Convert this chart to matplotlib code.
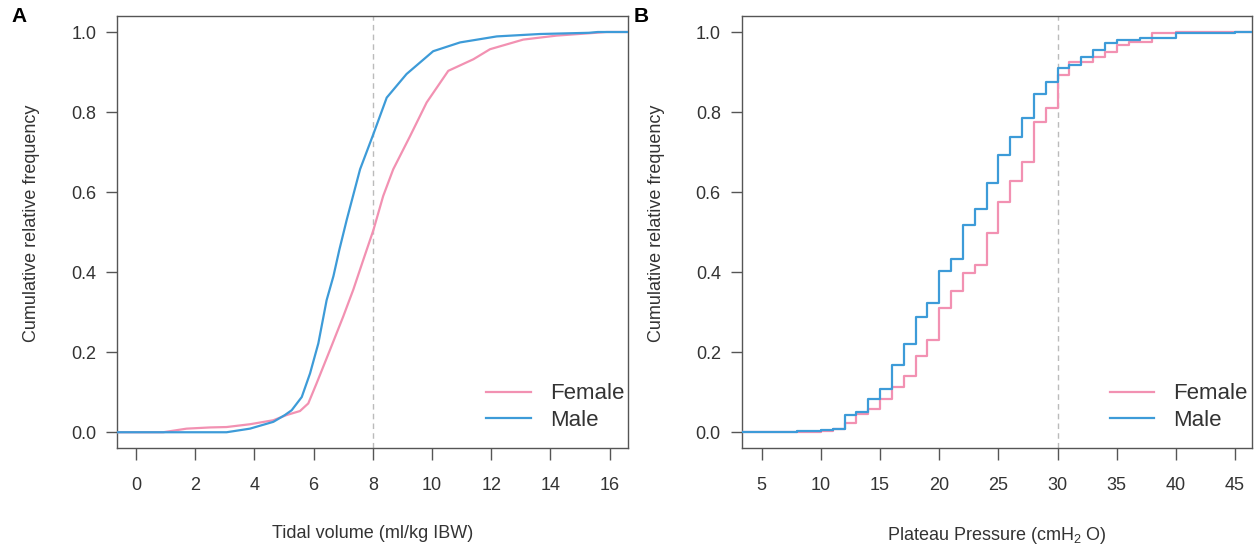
import matplotlib
matplotlib.use("Agg")
import matplotlib.pyplot as plt
import numpy as np

plt.rcParams["font.family"] = ["Liberation Sans", "DejaVu Sans"]
plt.rcParams["mathtext.fontset"] = "custom"
plt.rcParams["mathtext.rm"] = "Liberation Sans"
plt.rcParams["mathtext.it"] = "Liberation Sans:italic"

PINK = "#F291B2"
BLUE = "#3D9BD8"
AXIS = "#555555"
TEXT = "#333333"

# Panel A: tidal volume ECDF (ml/kg IBW)
tv_female_x = [0.92, 1.71, 2.5, 3.06, 3.85, 4.64, 5.09, 5.54, 5.82, 6.1, 6.55, 7.0,
               7.34, 7.68, 8.02, 8.35, 8.69, 9.26, 9.82, 10.55, 11.4, 11.96, 13.08,
               14.21, 15.34, 15.9]
tv_female_f = [0.0, 0.009, 0.012, 0.013, 0.02, 0.03, 0.043, 0.053, 0.072, 0.122, 0.205,
               0.289, 0.356, 0.431, 0.505, 0.59, 0.657, 0.74, 0.824, 0.903, 0.932, 0.957,
               0.981, 0.991, 0.997, 1.0]
tv_male_x = [3.06, 3.85, 4.64, 5.03, 5.26, 5.6, 5.88, 6.16, 6.44, 6.67, 6.87, 7.12, 7.57,
             8.02, 8.47, 9.14, 10.04, 10.95, 12.19, 13.65, 15.3, 15.6]
tv_male_f = [0.0, 0.009, 0.026, 0.043, 0.055, 0.088, 0.147, 0.222, 0.33, 0.39, 0.456,
             0.531, 0.657, 0.745, 0.836, 0.895, 0.952, 0.974, 0.989, 0.995, 0.998, 1.0]

# Panel B: plateau pressure ECDF (cmH2O), steps at integer values
pp_female_x = [8, 10, 11, 12, 13, 14, 15, 16, 17, 18, 19, 20, 21, 22, 23, 24, 25, 26,
               27, 28, 29, 30, 31, 32, 33, 34, 35, 36, 38, 40]
pp_female_f = [0.001, 0.004, 0.008, 0.023, 0.045, 0.059, 0.082, 0.114, 0.141, 0.19,
               0.231, 0.31, 0.352, 0.398, 0.419, 0.498, 0.575, 0.627, 0.676, 0.775,
               0.811, 0.892, 0.924, 0.926, 0.937, 0.949, 0.967, 0.976, 0.997, 1.0]
pp_male_x = [8, 10, 11, 12, 13, 14, 15, 16, 17, 18, 19, 20, 21, 22, 23, 24, 25, 26, 27,
             28, 29, 30, 31, 32, 33, 34, 35, 36, 37, 40, 45]
pp_male_f = [0.003, 0.006, 0.008, 0.043, 0.051, 0.084, 0.108, 0.168, 0.221, 0.289,
             0.324, 0.402, 0.433, 0.519, 0.558, 0.623, 0.692, 0.738, 0.786, 0.845,
             0.874, 0.909, 0.918, 0.937, 0.955, 0.972, 0.979, 0.981, 0.984, 0.997, 1.0]

yticks = [0.0, 0.2, 0.4, 0.6, 0.8, 1.0]
tv_ticks = list(range(0, 17, 2))
pp_ticks = list(range(5, 46, 5))


def extend(x, f, xlim):
    # ecdf lines run from the left edge to the right edge of the box
    return [xlim[0]] + list(x) + [xlim[1]], [0.0] + list(f) + [1.0]


def style_axes(ax, xlim, xticks, xlabel, cutoff):
    ax.set_xlim(*xlim)
    ax.set_ylim(-0.04, 1.04)
    ax.set_xticks(xticks)
    ax.set_yticks(yticks)
    ax.set_yticklabels([f"{v:.1f}" for v in yticks])
    ax.axvline(cutoff, color="#BBBBBB", lw=1.0, ls=(0, (4, 3)), zorder=1)
    for s in ax.spines.values():
        s.set_color(AXIS)
        s.set_linewidth(1.0)
    ax.tick_params(axis="x", length=8.5, width=1.0, color=AXIS, labelcolor=TEXT,
                   labelsize=13, pad=12)
    ax.tick_params(axis="y", length=8, width=1.0, color=AXIS, labelcolor=TEXT,
                   labelsize=13, pad=7)
    ax.set_xlabel(xlabel, fontsize=13, color=TEXT)
    ax.xaxis.set_label_coords(0.5, -0.177)
    ax.set_ylabel("Cumulative relative frequency", fontsize=13, color=TEXT)
    ax.yaxis.set_label_coords(-0.151, 0.52)
    ax.legend(loc="lower right", bbox_to_anchor=(0.992, 0.04), frameon=False,
              fontsize=16, handlelength=2.0, handletextpad=0.85, labelspacing=0.25,
              borderpad=0, borderaxespad=0, labelcolor=TEXT)


fig = plt.figure(figsize=(12.55, 5.44), dpi=100)
ax1 = fig.add_axes([0.0935, 0.176, 0.4071, 0.7946])
ax2 = fig.add_axes([0.591, 0.176, 0.4064, 0.7946])

xlim_a = (-0.63, 16.63)
x, f = extend(tv_female_x, tv_female_f, xlim_a)
ax1.plot(x, f, color=PINK, lw=1.6, label="Female", zorder=3)
x, f = extend(tv_male_x, tv_male_f, xlim_a)
ax1.plot(x, f, color=BLUE, lw=1.6, label="Male", zorder=4)
style_axes(ax1, xlim_a, tv_ticks, "Tidal volume (ml/kg IBW)", 8)

xlim_b = (3.31, 46.41)
x, f = extend(pp_female_x, pp_female_f, xlim_b)
ax2.step(x, f, where="post", color=PINK, lw=1.6, label="Female", zorder=3)
x, f = extend(pp_male_x, pp_male_f, xlim_b)
ax2.step(x, f, where="post", color=BLUE, lw=1.6, label="Male", zorder=4)
style_axes(ax2, xlim_b, pp_ticks, "Plateau Pressure (cmH$_2$ O)", 30)

fig.text(11 / 1255, 1 - 7 / 544, "A", fontsize=15, fontweight="bold", va="top", ha="left")
fig.text(634 / 1255, 1 - 7 / 544, "B", fontsize=15, fontweight="bold", va="top", ha="left")

fig.savefig("out.png", dpi=100)
